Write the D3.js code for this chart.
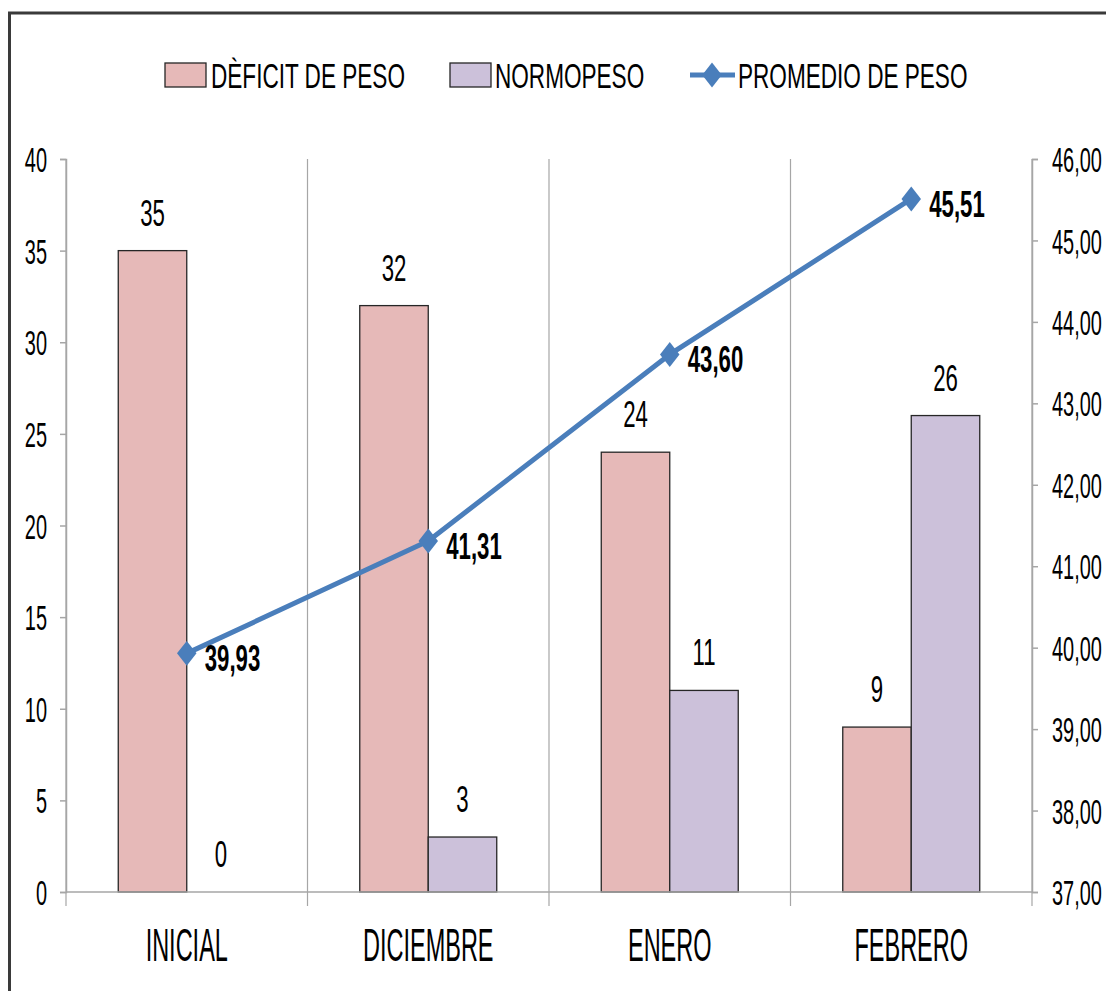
<!DOCTYPE html>
<html>
<head>
<script src="https://d3js.org/d3.v7.min.js"></script>
<style>
  body { margin: 0; background: #fff; }
  svg text { font-family: "Liberation Sans", Arial, sans-serif; fill: #000; }
</style>
</head>
<body>
<script>
// chart data
var categories = ["INICIAL", "DICIEMBRE", "ENERO", "FEBRERO"];
var deficit = [35, 32, 24, 9];
var normopeso = [0, 3, 11, 26];
var promedio = [39.93, 41.31, 43.60, 45.51];
var leftTicks = [0, 5, 10, 15, 20, 25, 30, 35, 40];
var rightTicks = [37, 38, 39, 40, 41, 42, 43, 44, 45, 46];
var seriesNames = ["DÈFICIT DE PESO", "NORMOPESO", "PROMEDIO DE PESO"];

var colDef = "#e6b9b8", colNorm = "#ccc1da", colLine = "#4a7ebb";
var W = 1106, H = 991;
var plot = {left: 66, right: 1032, top: 159, bottom: 892};

var svg = d3.select("body").append("svg")
  .attr("width", W).attr("height", H);

// frame
svg.append("rect")
  .attr("x", 9.5).attr("y", 13).attr("width", 1120).attr("height", 1010)
  .attr("fill", "none").attr("stroke", "#3a3a3a").attr("stroke-width", 3);

// scales
var x = d3.scaleBand().domain(categories).range([plot.left, plot.right]).padding(0);
var x1 = d3.scaleBand().domain(["def", "norm"]).range([0, x.bandwidth()])
  .paddingInner(0).paddingOuter(0.763);
var yL = d3.scaleLinear().domain([0, 40]).range([plot.bottom, plot.top]);
var yR = d3.scaleLinear().domain([37, 46]).range([plot.bottom, plot.top]);

// text helper: narrow text via horizontal scale
function label(g, px, py, str, size, sx, anchor, weight) {
  return g.append("text")
    .attr("transform", "translate(" + px + "," + py + ") scale(" + sx + ",1)")
    .attr("text-anchor", anchor || "middle")
    .style("font-size", size + "px")
    .style("font-weight", weight || "normal")
    .text(str);
}

// vertical gridlines at category boundaries
var bounds = categories.map(function(c) { return x(c); }).concat([plot.right]);
svg.selectAll(".grid").data(bounds).enter().append("line")
  .attr("x1", function(d) { return d; }).attr("x2", function(d) { return d; })
  .attr("y1", plot.top).attr("y2", plot.bottom + 14)
  .attr("stroke", "#a6a6a6").attr("stroke-width", 1.2);

// bars
var barData = [];
categories.forEach(function(c, i) {
  barData.push({c: c, k: "def", v: deficit[i]});
  barData.push({c: c, k: "norm", v: normopeso[i]});
});
svg.selectAll(".bar").data(barData).enter().append("rect")
  .attr("x", function(d) { return x(d.c) + x1(d.k); })
  .attr("width", x1.bandwidth())
  .attr("y", function(d) { return yL(d.v); })
  .attr("height", function(d) { return yL(0) - yL(d.v); })
  .attr("fill", function(d) { return d.k == "def" ? colDef : colNorm; })
  .attr("stroke", function(d) { return d.v > 0 ? "#262626" : "none"; })
  .attr("stroke-width", 1.3);

// bar value labels
barData.forEach(function(d) {
  label(svg, x(d.c) + x1(d.k) + x1.bandwidth() / 2, yL(d.v) - 25, d.v, 37, 0.6);
});

// axes
var axL = svg.append("g").attr("transform", "translate(" + plot.left + ",0)")
  .call(d3.axisLeft(yL).tickValues(leftTicks).tickSize(6).tickFormat(d3.format("d")));
var axR = svg.append("g").attr("transform", "translate(" + plot.right + ",0)")
  .call(d3.axisRight(yR).tickValues(rightTicks).tickSize(6)
    .tickFormat(function(d) { return d3.format(".2f")(d).replace(".", ","); }));
var axB = svg.append("g").attr("transform", "translate(0," + plot.bottom + ")")
  .call(d3.axisBottom(x).tickSize(0));

[axL, axR, axB].forEach(function(a) {
  a.select(".domain").attr("stroke", "#a6a6a6").attr("stroke-width", 1.5);
  a.selectAll(".tick line").attr("stroke", "#a6a6a6").attr("stroke-width", 1.5);
  a.selectAll("text").attr("fill", "#000").style("font-family", "Liberation Sans, Arial, sans-serif");
});
axB.select(".domain").attr("d", "M" + plot.left + ",0H" + plot.right);
axL.selectAll("text").attr("x", 0).attr("dy", "0.36em")
  .attr("transform", "translate(-19,0) scale(0.57,1)").style("font-size", "35px");
axR.selectAll("text").attr("x", 0).attr("dy", "0.36em").attr("text-anchor", "start")
  .attr("transform", "translate(20,0) scale(0.57,1)").style("font-size", "35px");
axB.selectAll("text").attr("y", 0).attr("dy", 0)
  .attr("transform", "translate(0,69) scale(0.5,1)").style("font-size", "47px");

// line series
var pts = categories.map(function(c, i) {
  return {c: c, v: promedio[i], px: x(c) + x.bandwidth() / 2, py: yR(promedio[i])};
});
svg.append("path").datum(pts)
  .attr("d", d3.line().x(function(d) { return d.px; }).y(function(d) { return d.py; }))
  .attr("fill", "none").attr("stroke", colLine).attr("stroke-width", 5)
  .attr("stroke-linejoin", "round");
var diamond = d3.symbol().type(d3.symbolDiamond2).size(300);
svg.selectAll(".mk").data(pts).enter().append("path")
  .attr("d", diamond)
  .attr("transform", function(d) { return "translate(" + d.px + "," + d.py + ") scale(0.9,1.15)"; })
  .attr("fill", colLine);
pts.forEach(function(d) {
  label(svg, d.px + 18, d.py + 18, d3.format(".2f")(d.v).replace(".", ","), 37, 0.6, "start", "bold");
});

// legend
var lg = svg.append("g");
lg.append("rect").attr("x", 165).attr("y", 63).attr("width", 41).attr("height", 24)
  .attr("fill", colDef).attr("stroke", "#262626").attr("stroke-width", 1.3);
label(lg, 211, 88, seriesNames[0], 35, 0.645, "start");
lg.append("rect").attr("x", 450).attr("y", 63).attr("width", 41).attr("height", 24)
  .attr("fill", colNorm).attr("stroke", "#262626").attr("stroke-width", 1.3);
label(lg, 495, 88, seriesNames[1], 35, 0.645, "start");
lg.append("line").attr("x1", 690).attr("x2", 735).attr("y1", 75).attr("y2", 75)
  .attr("stroke", colLine).attr("stroke-width", 5);
lg.append("path").attr("d", diamond).attr("transform", "translate(712,75) scale(0.9,1.15)").attr("fill", colLine);
label(lg, 738, 88, seriesNames[2], 35, 0.645, "start");
</script>
</body>
</html>
